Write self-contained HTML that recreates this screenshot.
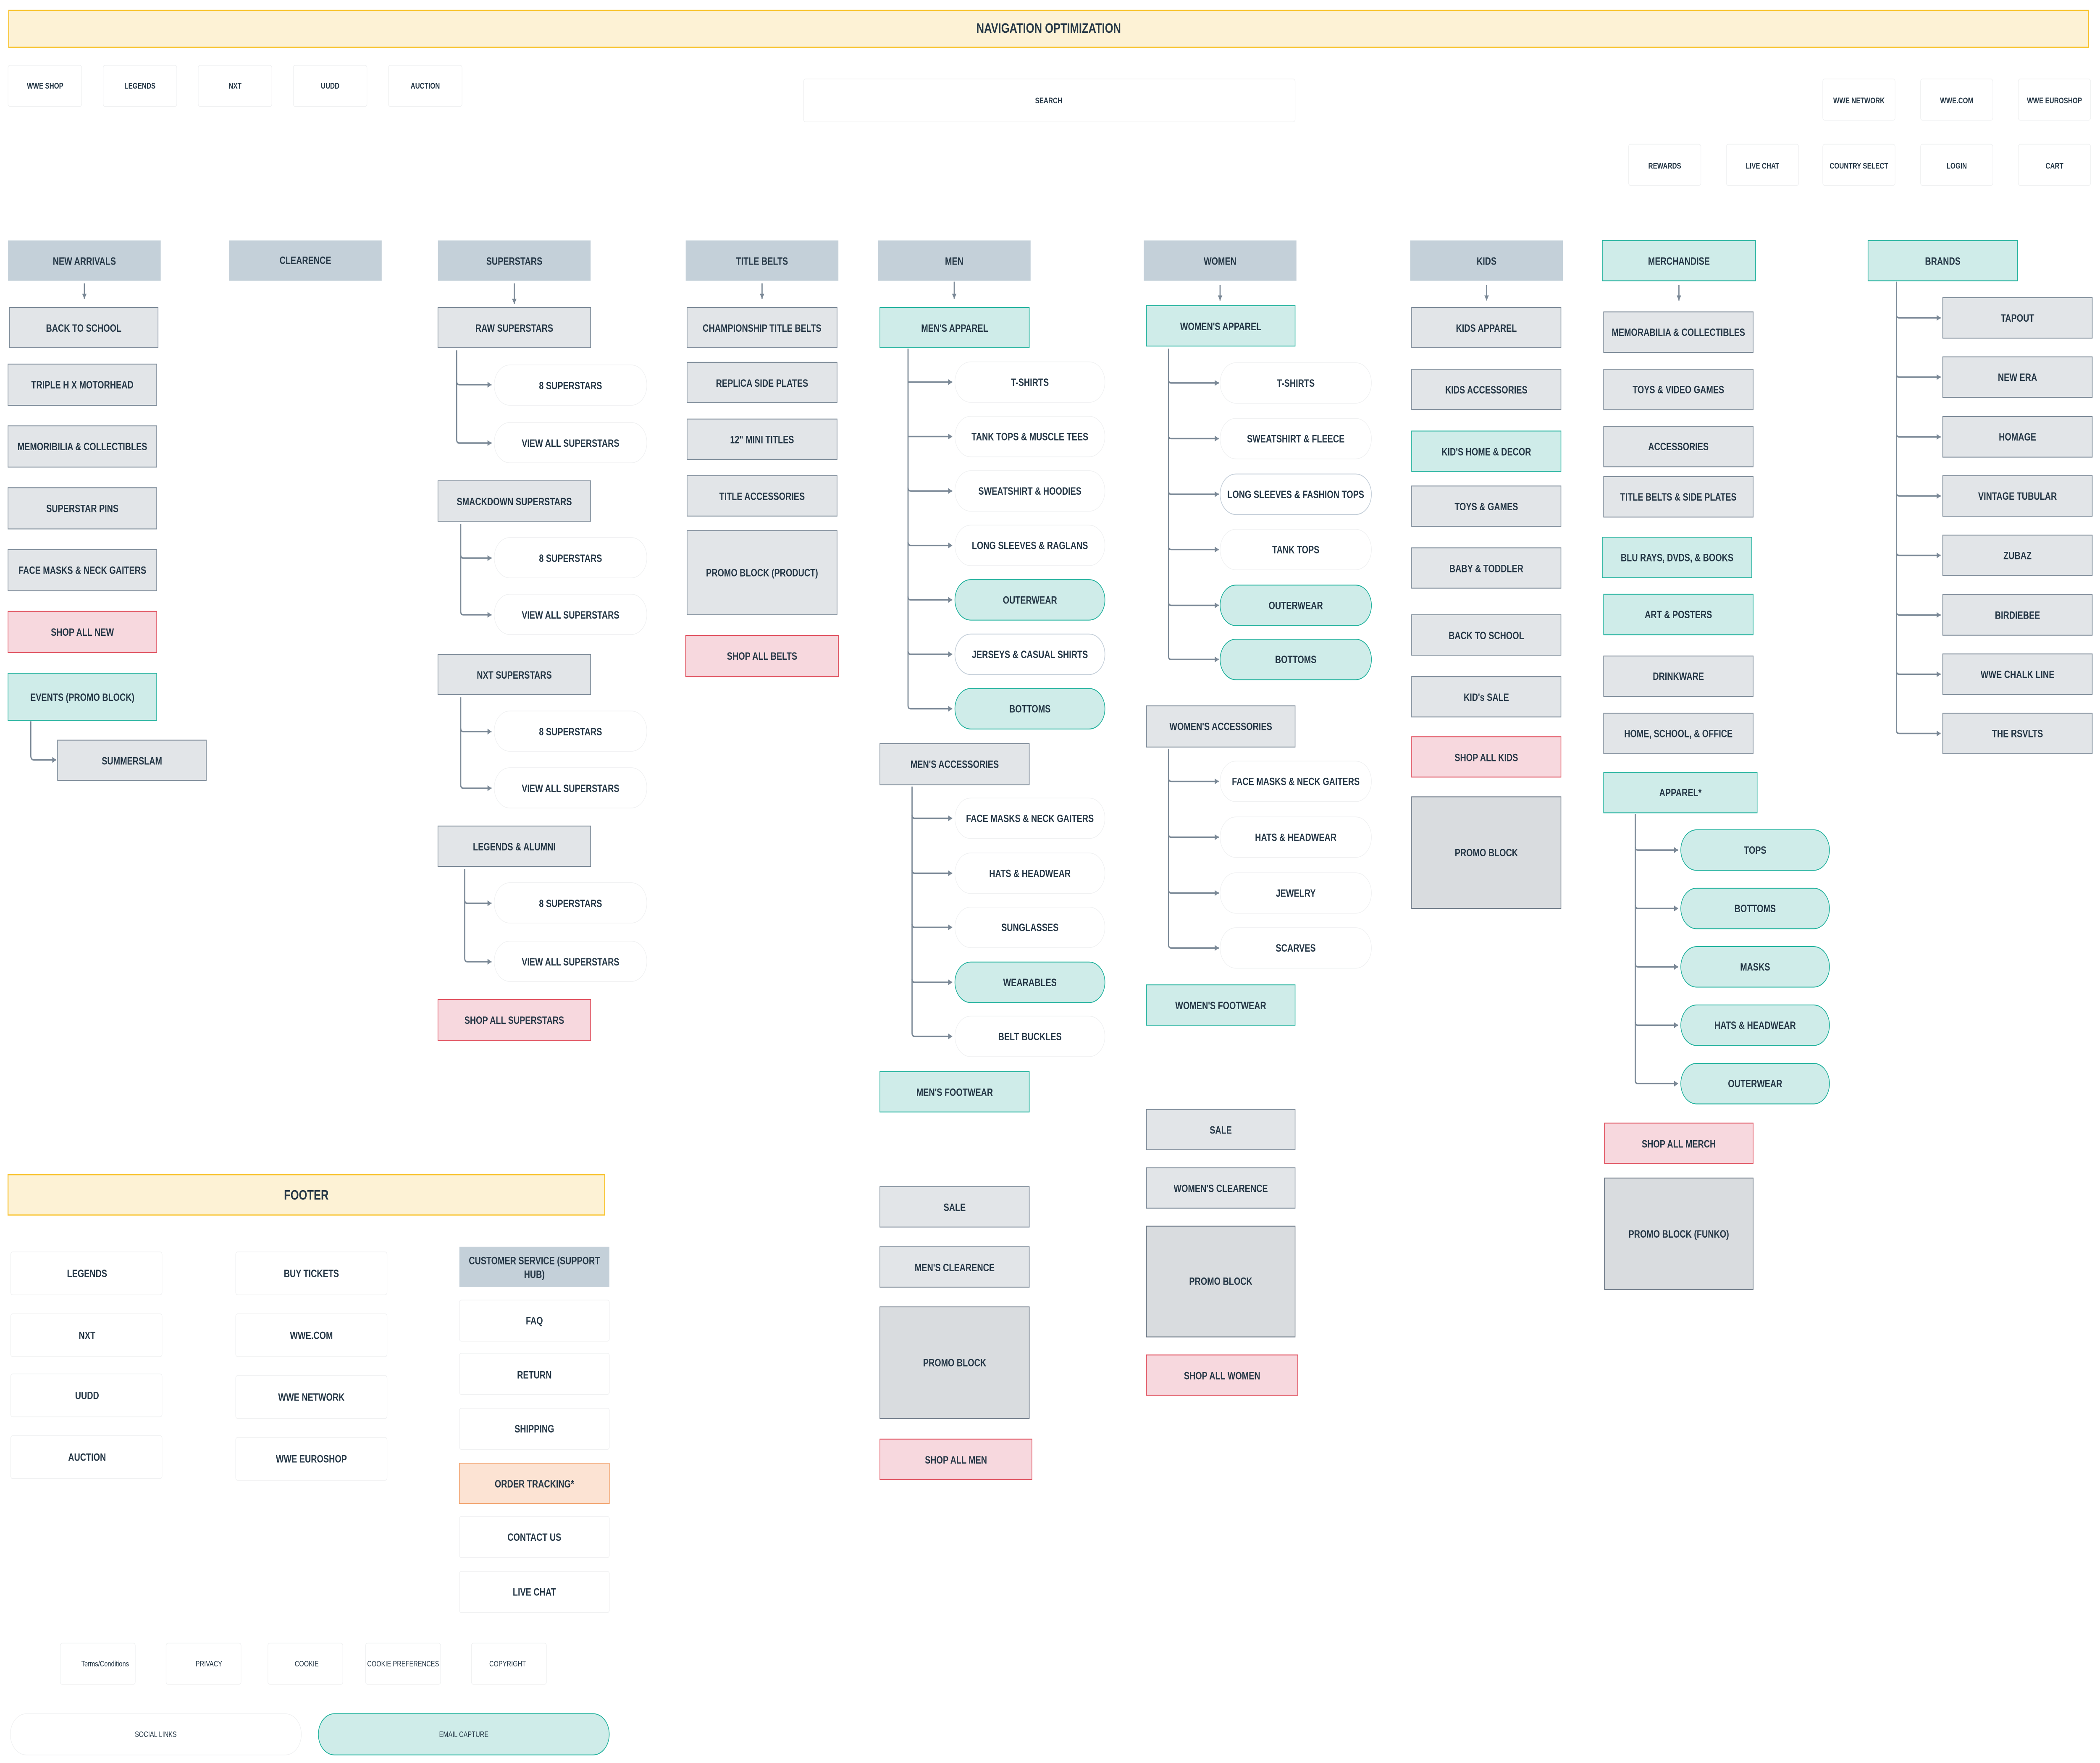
<!DOCTYPE html>
<html><head><meta charset="utf-8">
<style>
html,body{margin:0;padding:0;background:#fff;width:100vw;height:100vh;overflow:hidden;}
svg{display:block;width:100vw;height:100vh;}
text{font-family:"Liberation Sans Narrow","Liberation Sans",sans-serif;font-weight:bold;fill:#253746;text-anchor:middle;dominant-baseline:central;font-size:6.2px;}
.h{fill:#c4d0d9;stroke:none;}
.g{fill:#e2e5e8;stroke:#7a8896;stroke-width:0.5;}
.pr{fill:#d9dcdf;stroke:#6b7785;stroke-width:0.5;}
.t{fill:#cfece9;stroke:#1fb19c;stroke-width:0.5;}
.p{fill:#f7d8de;stroke:#e0515f;stroke-width:0.5;}
.o{fill:#fce3d3;stroke:#f2a46f;stroke-width:0.5;}
.w{fill:#fff;stroke:#f0f1f2;stroke-width:0.4;}
.wl{fill:#fff;stroke:#c6d0da;stroke-width:0.5;}
.y{fill:#fdf2d5;stroke:#f8c22a;stroke-width:0.7;}
.ln{stroke:#7a8896;stroke-width:0.85;fill:none;}
.s{font-size:4.8px;}
.r{font-weight:normal;font-size:4.6px;}
</style></head><body>
<svg xmlns="http://www.w3.org/2000/svg" viewBox="0 0 1568 1026.6" preserveAspectRatio="none">
<defs><marker id="a" markerWidth="4" markerHeight="4" refX="3" refY="2" orient="auto" markerUnits="userSpaceOnUse"><path d="M0,0.3 L3,2 L0,3.7z" fill="#7a8896"/></marker></defs>

<rect class="y" x="6.5" y="6" width="1553" height="21.5"/>
<text x="783" y="16.5" style="font-size:8px">NAVIGATION OPTIMIZATION</text>

<rect class="w" x="6" y="38" width="55" height="24" rx="1.5"/><text class="s" x="33.7" y="50">WWE SHOP</text>
<rect class="w" x="77" y="38" width="55" height="24" rx="1.5"/><text class="s" x="104.5" y="50">LEGENDS</text>
<rect class="w" x="148" y="38" width="55" height="24" rx="1.5"/><text class="s" x="175.5" y="50">NXT</text>
<rect class="w" x="219" y="38" width="55" height="24" rx="1.5"/><text class="s" x="246.5" y="50">UUDD</text>
<rect class="w" x="290" y="38" width="55" height="24" rx="1.5"/><text class="s" x="317.5" y="50">AUCTION</text>
<rect class="w" x="600" y="46" width="367" height="25" rx="1.5"/><text class="s" x="783" y="58.5">SEARCH</text>
<rect class="w" x="1361" y="46" width="54" height="24" rx="1.5"/><text class="s" x="1388" y="58.5">WWE NETWORK</text>
<rect class="w" x="1434" y="46" width="54" height="24" rx="1.5"/><text class="s" x="1461" y="58.5">WWE.COM</text>
<rect class="w" x="1507" y="46" width="54" height="24" rx="1.5"/><text class="s" x="1534" y="58.5">WWE EUROSHOP</text>
<rect class="w" x="1216" y="84" width="54" height="24" rx="1.5"/><text class="s" x="1243" y="96.5">REWARDS</text>
<rect class="w" x="1289" y="84" width="54" height="24" rx="1.5"/><text class="s" x="1316" y="96.5">LIVE CHAT</text>
<rect class="w" x="1361" y="84" width="54" height="24" rx="1.5"/><text class="s" x="1388" y="96.5">COUNTRY SELECT</text>
<rect class="w" x="1434" y="84" width="54" height="24" rx="1.5"/><text class="s" x="1461" y="96.5">LOGIN</text>
<rect class="w" x="1507" y="84" width="54" height="24" rx="1.5"/><text class="s" x="1534" y="96.5">CART</text>

<rect class="h" x="6" y="140" width="114" height="23.5"/><text x="63" y="152">NEW ARRIVALS</text>
<rect class="h" x="171" y="140" width="114" height="23.5"/><text x="228" y="151.5">CLEARENCE</text>
<rect class="h" x="327" y="140" width="114" height="23.5"/><text x="384" y="152">SUPERSTARS</text>
<rect class="h" x="512" y="140" width="114" height="23.5"/><text x="569" y="152">TITLE BELTS</text>
<rect class="h" x="655.5" y="140" width="114" height="23.5"/><text x="712.5" y="152">MEN</text>
<rect class="h" x="854" y="140" width="114" height="23.5"/><text x="911" y="152">WOMEN</text>
<rect class="h" x="1053" y="140" width="114" height="23.5"/><text x="1110" y="152">KIDS</text>
<rect class="t" x="1196.4" y="140" width="114.4" height="23.5"/><text x="1253.6" y="152">MERCHANDISE</text>
<rect class="t" x="1394.8" y="140" width="111.6" height="23.5"/><text x="1450.6" y="152">BRANDS</text>

<line class="ln" x1="63" y1="165" x2="63" y2="174" marker-end="url(#a)"/>
<line class="ln" x1="384" y1="165" x2="384" y2="177" marker-end="url(#a)"/>
<line class="ln" x1="569" y1="165" x2="569" y2="174" marker-end="url(#a)"/>
<line class="ln" x1="712.5" y1="164" x2="712.5" y2="174" marker-end="url(#a)"/>
<line class="ln" x1="911" y1="166" x2="911" y2="175" marker-end="url(#a)"/>
<line class="ln" x1="1110" y1="166" x2="1110" y2="175" marker-end="url(#a)"/>
<line class="ln" x1="1253.6" y1="166" x2="1253.6" y2="175" marker-end="url(#a)"/>

<rect class="g" x="7" y="179" width="111" height="23.5"/><text x="62.5" y="191">BACK TO SCHOOL</text>
<rect class="g" x="6" y="212" width="111" height="24"/><text x="61.5" y="224">TRIPLE H X MOTORHEAD</text>
<rect class="g" x="6" y="248" width="111" height="24"/><text x="61.5" y="260">MEMORIBILIA &amp; COLLECTIBLES</text>
<rect class="g" x="6" y="284" width="111" height="24"/><text x="61.5" y="296">SUPERSTAR PINS</text>
<rect class="g" x="6" y="320" width="111" height="24"/><text x="61.5" y="332">FACE MASKS &amp; NECK GAITERS</text>
<rect class="p" x="6" y="356" width="111" height="24"/><text x="61.5" y="368">SHOP ALL NEW</text>
<rect class="t" x="6" y="392" width="111" height="27.5"/><text x="61.5" y="406">EVENTS (PROMO BLOCK)</text>
<path class="ln" d="M23,420 V440 Q23,442.5 25.5,442.5 H42" marker-end="url(#a)"/>
<rect class="g" x="43" y="431" width="111" height="23.5"/><text x="98.5" y="443">SUMMERSLAM</text>

<rect class="g" x="327" y="179" width="114" height="23.5"/><text x="384" y="191">RAW SUPERSTARS</text>
<path class="ln" d="M341,204 V256 Q341,258 343,258 H367" marker-end="url(#a)"/>
<path class="ln" d="M341,222 Q341,224 343,224 H367" marker-end="url(#a)"/>
<rect class="w" x="369" y="212.5" width="114" height="23.5" rx="11.7"/><text x="426" y="224.5">8 SUPERSTARS</text>
<rect class="w" x="369" y="246" width="114" height="23.5" rx="11.7"/><text x="426" y="258">VIEW ALL SUPERSTARS</text>

<rect class="g" x="327" y="280" width="114" height="23.5"/><text x="384" y="292">SMACKDOWN SUPERSTARS</text>
<path class="ln" d="M344,305 V356 Q344,358 346,358 H367" marker-end="url(#a)"/>
<path class="ln" d="M344,323 Q344,325 346,325 H367" marker-end="url(#a)"/>
<rect class="w" x="369" y="313" width="114" height="23.5" rx="11.7"/><text x="426" y="325">8 SUPERSTARS</text>
<rect class="w" x="369" y="346" width="114" height="23.5" rx="11.7"/><text x="426" y="358">VIEW ALL SUPERSTARS</text>

<rect class="g" x="327" y="381" width="114" height="23.5"/><text x="384" y="393">NXT SUPERSTARS</text>
<path class="ln" d="M344,406 V457 Q344,459 346,459 H367" marker-end="url(#a)"/>
<path class="ln" d="M344,424 Q344,426 346,426 H367" marker-end="url(#a)"/>
<rect class="w" x="369" y="414" width="114" height="23.5" rx="11.7"/><text x="426" y="426">8 SUPERSTARS</text>
<rect class="w" x="369" y="447" width="114" height="23.5" rx="11.7"/><text x="426" y="459">VIEW ALL SUPERSTARS</text>

<rect class="g" x="327" y="481" width="114" height="23.5"/><text x="384" y="493">LEGENDS &amp; ALUMNI</text>
<path class="ln" d="M347,506 V558 Q347,560 349,560 H367" marker-end="url(#a)"/>
<path class="ln" d="M347,524 Q347,526 349,526 H367" marker-end="url(#a)"/>
<rect class="w" x="369" y="514" width="114" height="23.5" rx="11.7"/><text x="426" y="526">8 SUPERSTARS</text>
<rect class="w" x="369" y="548" width="114" height="23.5" rx="11.7"/><text x="426" y="560">VIEW ALL SUPERSTARS</text>
<rect class="p" x="327" y="582" width="114" height="24"/><text x="384" y="594">SHOP ALL SUPERSTARS</text>

<rect class="g" x="513" y="179" width="112" height="23.5"/><text x="569" y="191">CHAMPIONSHIP TITLE BELTS</text>
<rect class="g" x="513" y="211" width="112" height="23.5"/><text x="569" y="223">REPLICA SIDE PLATES</text>
<rect class="g" x="513" y="244" width="112" height="23.5"/><text x="569" y="256">12" MINI TITLES</text>
<rect class="g" x="513" y="277" width="112" height="23.5"/><text x="569" y="289">TITLE ACCESSORIES</text>
<rect class="g" x="513" y="309" width="112" height="49"/><text x="569" y="333.5">PROMO BLOCK (PRODUCT)</text>
<rect class="p" x="512" y="370" width="114" height="24"/><text x="569" y="382">SHOP ALL BELTS</text>

<rect class="t" x="657" y="179" width="111.5" height="23.5"/><text x="712.8" y="191">MEN'S APPAREL</text>
<path class="ln" d="M678,203 V410.7 Q678,412.7 680,412.7 H711" marker-end="url(#a)"/>
<line class="ln" x1="678" y1="222.5" x2="711" y2="222.5" marker-end="url(#a)"/>
<path class="ln" d="M678,254.2 H711" marker-end="url(#a)"/>
<path class="ln" d="M678,283.9 Q678,285.9 680,285.9 H711" marker-end="url(#a)"/>
<path class="ln" d="M678,315.6 Q678,317.6 680,317.6 H711" marker-end="url(#a)"/>
<path class="ln" d="M678,347.3 Q678,349.3 680,349.3 H711" marker-end="url(#a)"/>
<path class="ln" d="M678,379 Q678,381 680,381 H711" marker-end="url(#a)"/>
<rect class="w" x="713" y="210.7" width="112" height="23.6" rx="11.8"/><text x="769" y="222.5">T-SHIRTS</text>
<rect class="w" x="713" y="242.4" width="112" height="23.6" rx="11.8"/><text x="769" y="254.2">TANK TOPS &amp; MUSCLE TEES</text>
<rect class="w" x="713" y="274.1" width="112" height="23.6" rx="11.8"/><text x="769" y="285.9">SWEATSHIRT &amp; HOODIES</text>
<rect class="w" x="713" y="305.8" width="112" height="23.6" rx="11.8"/><text x="769" y="317.6">LONG SLEEVES &amp; RAGLANS</text>
<rect class="t" x="713" y="337.5" width="112" height="23.6" rx="11.8"/><text x="769" y="349.3">OUTERWEAR</text>
<rect class="wl" x="713" y="369.2" width="112" height="23.6" rx="11.8"/><text x="769" y="381">JERSEYS &amp; CASUAL SHIRTS</text>
<rect class="t" x="713" y="400.9" width="112" height="23.6" rx="11.8"/><text x="769" y="412.7">BOTTOMS</text>

<rect class="g" x="657" y="433" width="111.5" height="24"/><text x="712.8" y="445">MEN'S ACCESSORIES</text>
<path class="ln" d="M681,458 V601.5 Q681,603.5 683,603.5 H711" marker-end="url(#a)"/>
<path class="ln" d="M681,474.5 Q681,476.5 683,476.5 H711" marker-end="url(#a)"/>
<path class="ln" d="M681,506.5 Q681,508.5 683,508.5 H711" marker-end="url(#a)"/>
<path class="ln" d="M681,538 Q681,540 683,540 H711" marker-end="url(#a)"/>
<path class="ln" d="M681,570 Q681,572 683,572 H711" marker-end="url(#a)"/>
<rect class="w" x="713" y="464.7" width="112" height="23.6" rx="11.8"/><text x="769" y="476.5">FACE MASKS &amp; NECK GAITERS</text>
<rect class="w" x="713" y="496.7" width="112" height="23.6" rx="11.8"/><text x="769" y="508.5">HATS &amp; HEADWEAR</text>
<rect class="w" x="713" y="528.2" width="112" height="23.6" rx="11.8"/><text x="769" y="540">SUNGLASSES</text>
<rect class="t" x="713" y="560.2" width="112" height="23.6" rx="11.8"/><text x="769" y="572">WEARABLES</text>
<rect class="w" x="713" y="591.7" width="112" height="23.6" rx="11.8"/><text x="769" y="603.5">BELT BUCKLES</text>
<rect class="t" x="657" y="624" width="111.5" height="23.5"/><text x="712.8" y="636">MEN'S FOOTWEAR</text>
<rect class="g" x="657" y="691" width="111.5" height="23.5"/><text x="712.8" y="703">SALE</text>
<rect class="g" x="657" y="726" width="111.5" height="23.5"/><text x="712.8" y="738">MEN'S CLEARENCE</text>
<rect class="pr" x="657" y="761" width="111.5" height="65"/><text x="712.8" y="793.5">PROMO BLOCK</text>
<rect class="p" x="657" y="838" width="113.5" height="23.5"/><text x="713.8" y="850">SHOP ALL MEN</text>

<rect class="t" x="856" y="178" width="111" height="23.5"/><text x="911.5" y="190">WOMEN'S APPAREL</text>
<path class="ln" d="M872.5,203 V382 Q872.5,384 874.5,384 H910" marker-end="url(#a)"/>
<path class="ln" d="M872.5,221 Q872.5,223 874.5,223 H910" marker-end="url(#a)"/>
<path class="ln" d="M872.5,253.4 Q872.5,255.4 874.5,255.4 H910" marker-end="url(#a)"/>
<path class="ln" d="M872.5,285.8 Q872.5,287.8 874.5,287.8 H910" marker-end="url(#a)"/>
<path class="ln" d="M872.5,318 Q872.5,320 874.5,320 H910" marker-end="url(#a)"/>
<path class="ln" d="M872.5,350.5 Q872.5,352.5 874.5,352.5 H910" marker-end="url(#a)"/>
<rect class="w" x="911" y="211.2" width="113" height="23.6" rx="11.8"/><text x="967.5" y="223">T-SHIRTS</text>
<rect class="w" x="911" y="243.6" width="113" height="23.6" rx="11.8"/><text x="967.5" y="255.4">SWEATSHIRT &amp; FLEECE</text>
<rect class="wl" x="911" y="276" width="113" height="23.6" rx="11.8"/><text x="967.5" y="287.8">LONG SLEEVES &amp; FASHION TOPS</text>
<rect class="w" x="911" y="308.2" width="113" height="23.6" rx="11.8"/><text x="967.5" y="320">TANK TOPS</text>
<rect class="t" x="911" y="340.7" width="113" height="23.6" rx="11.8"/><text x="967.5" y="352.5">OUTERWEAR</text>
<rect class="t" x="911" y="372.2" width="113" height="23.6" rx="11.8"/><text x="967.5" y="384">BOTTOMS</text>

<rect class="g" x="856" y="411" width="111" height="24"/><text x="911.5" y="423">WOMEN'S ACCESSORIES</text>
<path class="ln" d="M872.5,436 V550 Q872.5,552 874.5,552 H910" marker-end="url(#a)"/>
<path class="ln" d="M872.5,453 Q872.5,455 874.5,455 H910" marker-end="url(#a)"/>
<path class="ln" d="M872.5,485.5 Q872.5,487.5 874.5,487.5 H910" marker-end="url(#a)"/>
<path class="ln" d="M872.5,518 Q872.5,520 874.5,520 H910" marker-end="url(#a)"/>
<rect class="w" x="911" y="443.2" width="113" height="23.6" rx="11.8"/><text x="967.5" y="455">FACE MASKS &amp; NECK GAITERS</text>
<rect class="w" x="911" y="475.7" width="113" height="23.6" rx="11.8"/><text x="967.5" y="487.5">HATS &amp; HEADWEAR</text>
<rect class="w" x="911" y="508.2" width="113" height="23.6" rx="11.8"/><text x="967.5" y="520">JEWELRY</text>
<rect class="w" x="911" y="540.2" width="113" height="23.6" rx="11.8"/><text x="967.5" y="552">SCARVES</text>
<rect class="t" x="856" y="573.5" width="111" height="23.5"/><text x="911.5" y="585.5">WOMEN'S FOOTWEAR</text>
<rect class="g" x="856" y="646" width="111" height="23.5"/><text x="911.5" y="658">SALE</text>
<rect class="g" x="856" y="680" width="111" height="23.5"/><text x="911.5" y="692">WOMEN'S CLEARENCE</text>
<rect class="pr" x="856" y="714" width="111" height="64.5"/><text x="911.5" y="746">PROMO BLOCK</text>
<rect class="p" x="856" y="789" width="113" height="23.5"/><text x="912.5" y="801">SHOP ALL WOMEN</text>

<rect class="g" x="1054" y="179" width="111.5" height="23.5"/><text x="1109.8" y="191">KIDS APPAREL</text>
<rect class="g" x="1054" y="215" width="111.5" height="23.5"/><text x="1109.8" y="227">KIDS ACCESSORIES</text>
<rect class="t" x="1054" y="251" width="111.5" height="23.5"/><text x="1109.8" y="263">KID'S HOME &amp; DECOR</text>
<rect class="g" x="1054" y="283" width="111.5" height="23.5"/><text x="1109.8" y="295">TOYS &amp; GAMES</text>
<rect class="g" x="1054" y="319" width="111.5" height="23.5"/><text x="1109.8" y="331">BABY &amp; TODDLER</text>
<rect class="g" x="1054" y="358" width="111.5" height="23.5"/><text x="1109.8" y="370">BACK TO SCHOOL</text>
<rect class="g" x="1054" y="394" width="111.5" height="23.5"/><text x="1109.8" y="406">KID's SALE</text>
<rect class="p" x="1054" y="429" width="111.5" height="23.5"/><text x="1109.8" y="441">SHOP ALL KIDS</text>
<rect class="pr" x="1054" y="464" width="111.5" height="65"/><text x="1109.8" y="496.5">PROMO BLOCK</text>

<rect class="g" x="1197.4" y="181.6" width="111.6" height="23.6"/><text x="1253.2" y="193.4">MEMORABILIA &amp; COLLECTIBLES</text>
<rect class="g" x="1197.4" y="215" width="111.6" height="23.6"/><text x="1253.2" y="226.8">TOYS &amp; VIDEO GAMES</text>
<rect class="g" x="1197.4" y="248.2" width="111.6" height="23.6"/><text x="1253.2" y="260">ACCESSORIES</text>
<rect class="g" x="1197.4" y="277.5" width="111.6" height="23.6"/><text x="1253.2" y="289.3">TITLE BELTS &amp; SIDE PLATES</text>
<rect class="t" x="1196.4" y="312.8" width="111.6" height="23.6"/><text x="1252.2" y="324.6">BLU RAYS, DVDS, &amp; BOOKS</text>
<rect class="t" x="1197.4" y="346" width="111.6" height="23.6"/><text x="1253.2" y="357.8">ART &amp; POSTERS</text>
<rect class="g" x="1197.4" y="382" width="111.6" height="23.6"/><text x="1253.2" y="393.8">DRINKWARE</text>
<rect class="g" x="1197.4" y="415.3" width="111.6" height="23.6"/><text x="1253.2" y="427.1">HOME, SCHOOL, &amp; OFFICE</text>
<rect class="t" x="1197.4" y="449.7" width="114.6" height="23.6"/><text x="1254.7" y="461.5">APPAREL*</text>
<path class="ln" d="M1221,474 V629 Q1221,631 1223,631 H1253" marker-end="url(#a)"/>
<path class="ln" d="M1221,493 Q1221,495 1223,495 H1253" marker-end="url(#a)"/>
<path class="ln" d="M1221,527 Q1221,529 1223,529 H1253" marker-end="url(#a)"/>
<path class="ln" d="M1221,561 Q1221,563 1223,563 H1253" marker-end="url(#a)"/>
<path class="ln" d="M1221,595 Q1221,597 1223,597 H1253" marker-end="url(#a)"/>
<rect class="t" x="1255" y="483.2" width="111" height="23.6" rx="11.8"/><text x="1310.5" y="495">TOPS</text>
<rect class="t" x="1255" y="517.2" width="111" height="23.6" rx="11.8"/><text x="1310.5" y="529">BOTTOMS</text>
<rect class="t" x="1255" y="551.2" width="111" height="23.6" rx="11.8"/><text x="1310.5" y="563">MASKS</text>
<rect class="t" x="1255" y="585.2" width="111" height="23.6" rx="11.8"/><text x="1310.5" y="597">HATS &amp; HEADWEAR</text>
<rect class="t" x="1255" y="619.2" width="111" height="23.6" rx="11.8"/><text x="1310.5" y="631">OUTERWEAR</text>
<rect class="p" x="1198" y="654" width="111" height="23.5"/><text x="1253.5" y="666">SHOP ALL MERCH</text>
<rect class="pr" x="1198" y="686" width="111" height="65"/><text x="1253.5" y="718.5">PROMO BLOCK (FUNKO)</text>

<path class="ln" d="M1416,164 V425 Q1416,427.1 1418,427.1 H1449" marker-end="url(#a)"/>
<path class="ln" d="M1416,183.1 Q1416,185.1 1418,185.1 H1449" marker-end="url(#a)"/>
<path class="ln" d="M1416,217.6 Q1416,219.6 1418,219.6 H1449" marker-end="url(#a)"/>
<path class="ln" d="M1416,252.4 Q1416,254.4 1418,254.4 H1449" marker-end="url(#a)"/>
<path class="ln" d="M1416,286.8 Q1416,288.8 1418,288.8 H1449" marker-end="url(#a)"/>
<path class="ln" d="M1416,321.4 Q1416,323.4 1418,323.4 H1449" marker-end="url(#a)"/>
<path class="ln" d="M1416,356.1 Q1416,358.1 1418,358.1 H1449" marker-end="url(#a)"/>
<path class="ln" d="M1416,390.6 Q1416,392.6 1418,392.6 H1449" marker-end="url(#a)"/>
<rect class="g" x="1450.6" y="173.3" width="111.6" height="23.6"/><text x="1506.4" y="185.1">TAPOUT</text>
<rect class="g" x="1450.6" y="207.8" width="111.6" height="23.6"/><text x="1506.4" y="219.6">NEW ERA</text>
<rect class="g" x="1450.6" y="242.6" width="111.6" height="23.6"/><text x="1506.4" y="254.4">HOMAGE</text>
<rect class="g" x="1450.6" y="277" width="111.6" height="23.6"/><text x="1506.4" y="288.8">VINTAGE TUBULAR</text>
<rect class="g" x="1450.6" y="311.6" width="111.6" height="23.6"/><text x="1506.4" y="323.4">ZUBAZ</text>
<rect class="g" x="1450.6" y="346.3" width="111.6" height="23.6"/><text x="1506.4" y="358.1">BIRDIEBEE</text>
<rect class="g" x="1450.6" y="380.8" width="111.6" height="23.6"/><text x="1506.4" y="392.6">WWE CHALK LINE</text>
<rect class="g" x="1450.6" y="415.3" width="111.6" height="23.6"/><text x="1506.4" y="427.1">THE RSVLTS</text>

<rect class="y" x="6" y="684" width="445.5" height="23.5"/><text x="228.7" y="696" style="font-size:8px">FOOTER</text>
<rect class="w" x="8" y="729" width="113" height="25" rx="1.5"/><text x="65" y="741.5">LEGENDS</text>
<rect class="w" x="8" y="765" width="113" height="25" rx="1.5"/><text x="65" y="777.5">NXT</text>
<rect class="w" x="8" y="800" width="113" height="25" rx="1.5"/><text x="65" y="812.5">UUDD</text>
<rect class="w" x="8" y="836" width="113" height="25" rx="1.5"/><text x="65" y="848.5">AUCTION</text>
<rect class="w" x="176" y="729" width="113" height="25" rx="1.5"/><text x="232.5" y="741.5">BUY TICKETS</text>
<rect class="w" x="176" y="765" width="113" height="25" rx="1.5"/><text x="232.5" y="777.5">WWE.COM</text>
<rect class="w" x="176" y="801" width="113" height="25" rx="1.5"/><text x="232.5" y="813.5">WWE NETWORK</text>
<rect class="w" x="176" y="837" width="113" height="25" rx="1.5"/><text x="232.5" y="849.5">WWE EUROSHOP</text>
<rect class="h" x="343" y="726" width="112" height="23.5"/><text x="399" y="734">CUSTOMER SERVICE (SUPPORT</text><text x="399" y="742">HUB)</text>
<rect class="w" x="343" y="757" width="112" height="24" rx="1.5"/><text x="399" y="769">FAQ</text>
<rect class="w" x="343" y="788" width="112" height="24" rx="1.5"/><text x="399" y="800.5">RETURN</text>
<rect class="w" x="343" y="820" width="112" height="24" rx="1.5"/><text x="399" y="832">SHIPPING</text>
<rect class="o" x="343" y="852" width="112" height="23.5"/><text x="399" y="864">ORDER TRACKING*</text>
<rect class="w" x="343" y="883" width="112" height="24" rx="1.5"/><text x="399" y="895">CONTACT US</text>
<rect class="w" x="343" y="915" width="112" height="24" rx="1.5"/><text x="399" y="927">LIVE CHAT</text>

<rect class="w" x="45" y="956.8" width="56" height="24" rx="1.5"/><text class="r" x="78.5" y="968.8">Terms/Conditions</text>
<rect class="w" x="124" y="956.8" width="56" height="24" rx="1.5"/><text class="r" x="156" y="968.8">PRIVACY</text>
<rect class="w" x="200" y="956.8" width="56" height="24" rx="1.5"/><text class="r" x="229" y="968.8">COOKIE</text>
<rect class="w" x="273" y="956.8" width="56" height="24" rx="1.5"/><text class="r" x="301" y="968.8">COOKIE PREFERENCES</text>
<rect class="w" x="352" y="956.8" width="56" height="24" rx="1.5"/><text class="r" x="379" y="968.8">COPYRIGHT</text>
<rect class="w" x="7.7" y="997.9" width="217.3" height="24" rx="12"/><text class="r" x="116.3" y="1009.9">SOCIAL LINKS</text>
<rect class="t" x="237.7" y="997.9" width="217.2" height="24" rx="12"/><text class="r" x="346.3" y="1009.9">EMAIL CAPTURE</text>
</svg>
</body></html>
